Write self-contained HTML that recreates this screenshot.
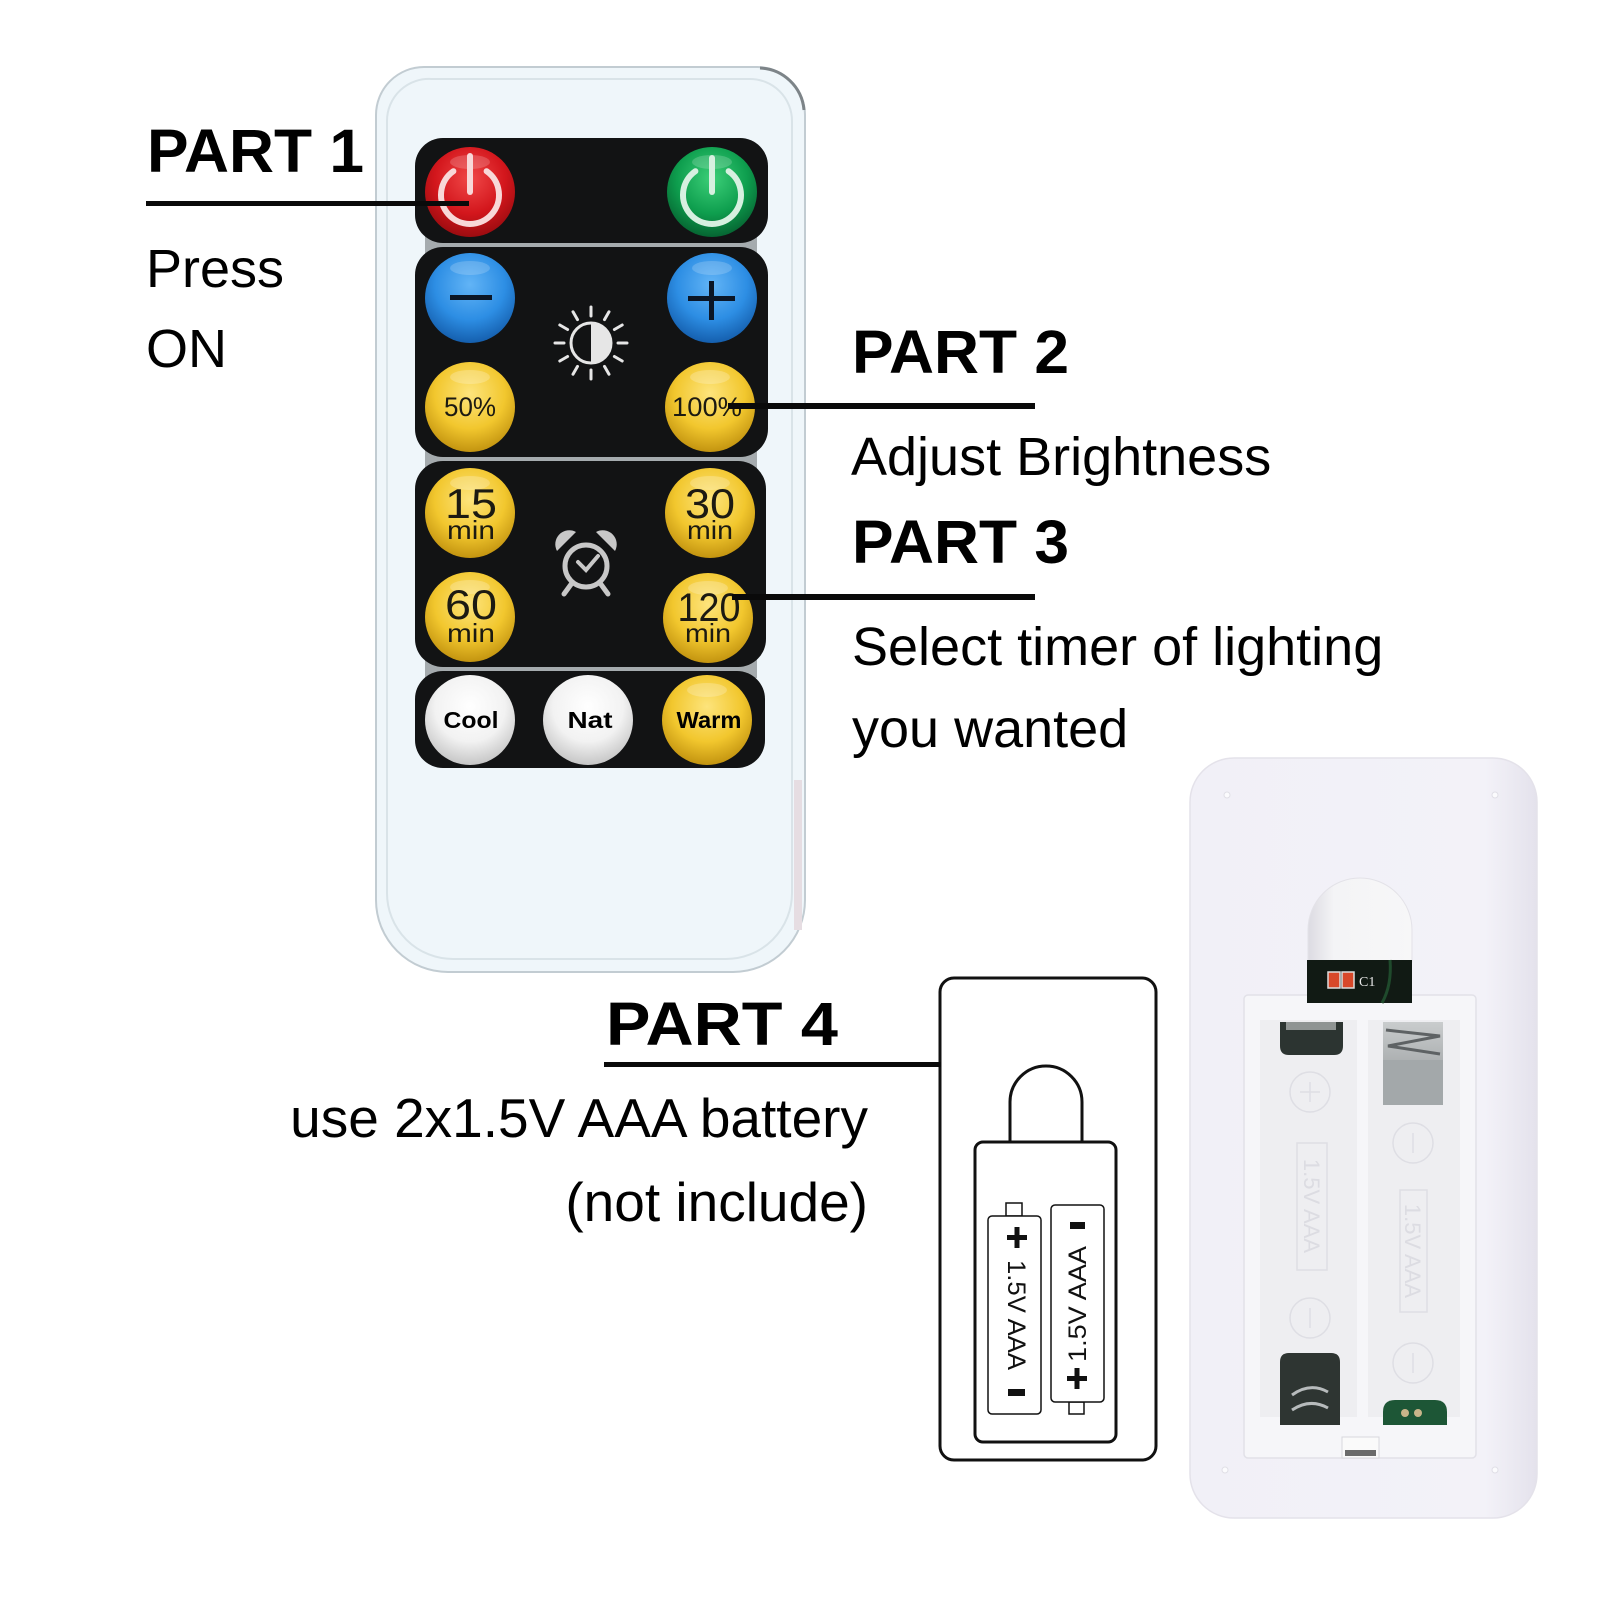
<!DOCTYPE html>
<html>
<head>
<meta charset="utf-8">
<style>
  html,body{margin:0;padding:0;background:#fff;}
  svg{display:block;}
  .lbl{font-family:"Liberation Sans",Arial,sans-serif;fill:#000;}
  .btn{font-family:"Liberation Sans Narrow","Liberation Sans",Arial,sans-serif;fill:#1c1a12;}
</style>
</head>
<body>
<svg width="1600" height="1600" viewBox="0 0 1600 1600" xmlns="http://www.w3.org/2000/svg">
  <defs>
    <radialGradient id="gRed" cx="50%" cy="35%" r="65%">
      <stop offset="0" stop-color="#f04848"/>
      <stop offset="0.6" stop-color="#d3161c"/>
      <stop offset="1" stop-color="#9c0c10"/>
    </radialGradient>
    <radialGradient id="gGreen" cx="50%" cy="35%" r="65%">
      <stop offset="0" stop-color="#3ccf78"/>
      <stop offset="0.6" stop-color="#0e9e4e"/>
      <stop offset="1" stop-color="#066532"/>
    </radialGradient>
    <radialGradient id="gBlue" cx="50%" cy="35%" r="65%">
      <stop offset="0" stop-color="#62b4f6"/>
      <stop offset="0.6" stop-color="#2d8ee4"/>
      <stop offset="1" stop-color="#155fae"/>
    </radialGradient>
    <radialGradient id="gYel" cx="50%" cy="35%" r="65%">
      <stop offset="0" stop-color="#fde47c"/>
      <stop offset="0.6" stop-color="#f2c72e"/>
      <stop offset="1" stop-color="#c39410"/>
    </radialGradient>
    <radialGradient id="gWht" cx="50%" cy="35%" r="65%">
      <stop offset="0" stop-color="#ffffff"/>
      <stop offset="0.6" stop-color="#f2f2f2"/>
      <stop offset="1" stop-color="#c6c6c6"/>
    </radialGradient>
    <linearGradient id="gBack" x1="0" y1="0" x2="1" y2="0">
      <stop offset="0" stop-color="#f1f0f7"/>
      <stop offset="0.85" stop-color="#f3f2f8"/>
      <stop offset="1" stop-color="#e4e2ec"/>
    </linearGradient>
    <linearGradient id="gArch" x1="0" y1="0" x2="1" y2="0">
      <stop offset="0" stop-color="#dcdbe2"/>
      <stop offset="0.25" stop-color="#f4f4f6"/>
      <stop offset="1" stop-color="#f7f7f8"/>
    </linearGradient>
    <linearGradient id="gMetal" x1="0" y1="0" x2="0" y2="1">
      <stop offset="0" stop-color="#c9cccd"/>
      <stop offset="1" stop-color="#8e9294"/>
    </linearGradient>
  </defs>

  <!-- ================= FRONT REMOTE ================= -->
  <path d="M424,67 H757 A48,48 0 0 1 805,115 V900 A72,72 0 0 1 733,972 H448 A72,72 0 0 1 376,900 V115 A48,48 0 0 1 424,67 Z"
        fill="#eff6fa" stroke="#c2ccd2" stroke-width="2"/>
  <path d="M432,79 H750 A42,42 0 0 1 792,121 V893 A66,66 0 0 1 726,959 H453 A66,66 0 0 1 387,893 V121 A42,42 0 0 1 432,79 Z"
        fill="none" stroke="#d9e3e8" stroke-width="2"/>
  <path d="M760,68 A46,46 0 0 1 804,110" fill="none" stroke="#7d8488" stroke-width="3"/>
  <rect x="794" y="780" width="8" height="150" fill="#e6dde2"/>

  <!-- gaps behind panels -->
  <rect x="425" y="236" width="332" height="442" fill="#a5abae"/>

  <!-- panels -->
  <rect x="415" y="138" width="353" height="105" rx="28" fill="#121314"/>
  <rect x="415" y="247" width="353" height="210" rx="28" fill="#121314"/>
  <rect x="415" y="461" width="351" height="206" rx="28" fill="#121314"/>
  <rect x="415" y="671" width="350" height="97" rx="28" fill="#121314"/>

  <!-- power buttons -->
  <circle cx="470" cy="192" r="45" fill="url(#gRed)"/>
  <ellipse cx="470" cy="162" rx="20" ry="7" fill="#fff" opacity="0.18"/>
  <path d="M486.6,171.2 A29,29 0 1 1 453.4,171.2" fill="none" stroke="#f8d8d8" stroke-width="6" stroke-linecap="round"/>
  <line x1="470" y1="156" x2="470" y2="192" stroke="#f8d8d8" stroke-width="6" stroke-linecap="round"/>

  <circle cx="712" cy="192" r="45" fill="url(#gGreen)"/>
  <ellipse cx="712" cy="162" rx="20" ry="7" fill="#fff" opacity="0.18"/>
  <path d="M728.6,171.2 A29,29 0 1 1 695.4,171.2" fill="none" stroke="#d6f0e0" stroke-width="6" stroke-linecap="round"/>
  <line x1="712" y1="158" x2="712" y2="192" stroke="#d6f0e0" stroke-width="6" stroke-linecap="round"/>

  <!-- brightness -->
  <circle cx="470" cy="298" r="45" fill="url(#gBlue)"/>
  <ellipse cx="470" cy="268" rx="20" ry="7" fill="#fff" opacity="0.18"/>
  <rect x="450" y="295" width="42" height="5" fill="#0b1626"/>

  <circle cx="712" cy="298" r="45" fill="url(#gBlue)"/>
  <ellipse cx="712" cy="268" rx="20" ry="7" fill="#fff" opacity="0.18"/>
  <rect x="688" y="296" width="47" height="5" fill="#0b1626"/>
  <rect x="709" y="281" width="5" height="39" fill="#0b1626"/>

  <!-- sun icon -->
  <g stroke="#e6e6e6" stroke-width="3" stroke-linecap="round">
    <circle cx="591" cy="343" r="20" fill="none"/>
    <line x1="618" y1="343" x2="627" y2="343"/>
    <line x1="614.4" y1="356.5" x2="622.2" y2="361"/>
    <line x1="604.5" y1="366.4" x2="609" y2="374.2"/>
    <line x1="591" y1="370" x2="591" y2="379"/>
    <line x1="577.5" y1="366.4" x2="573" y2="374.2"/>
    <line x1="567.6" y1="356.5" x2="559.8" y2="361"/>
    <line x1="564" y1="343" x2="555" y2="343"/>
    <line x1="567.6" y1="329.5" x2="559.8" y2="325"/>
    <line x1="577.5" y1="319.6" x2="573" y2="311.8"/>
    <line x1="591" y1="316" x2="591" y2="307"/>
    <line x1="604.5" y1="319.6" x2="609" y2="311.8"/>
    <line x1="614.4" y1="329.5" x2="622.2" y2="325"/>
  </g>
  <path d="M591,323 A20,20 0 0 1 591,363 Z" fill="#e6e6e6"/>

  <circle cx="470" cy="407" r="45" fill="url(#gYel)"/>
  <ellipse cx="470" cy="377" rx="20" ry="7" fill="#fff" opacity="0.22"/>
  <text class="btn" x="470" y="416" font-size="27" text-anchor="middle" textLength="52" lengthAdjust="spacingAndGlyphs">50%</text>

  <circle cx="710" cy="407" r="45" fill="url(#gYel)"/>
  <ellipse cx="710" cy="377" rx="20" ry="7" fill="#fff" opacity="0.22"/>
  <text class="btn" x="707" y="416" font-size="27" text-anchor="middle" textLength="70" lengthAdjust="spacingAndGlyphs">100%</text>

  <!-- timer -->
  <circle cx="470" cy="513" r="45" fill="url(#gYel)"/>
  <ellipse cx="470" cy="483" rx="20" ry="7" fill="#fff" opacity="0.22"/>
  <text class="btn" x="471" y="518" font-size="42" text-anchor="middle" textLength="52" lengthAdjust="spacingAndGlyphs">15</text>
  <text class="btn" x="471" y="539" font-size="26" text-anchor="middle" textLength="48" lengthAdjust="spacingAndGlyphs">min</text>

  <circle cx="710" cy="513" r="45" fill="url(#gYel)"/>
  <ellipse cx="710" cy="483" rx="20" ry="7" fill="#fff" opacity="0.22"/>
  <text class="btn" x="710" y="518" font-size="42" text-anchor="middle" textLength="50" lengthAdjust="spacingAndGlyphs">30</text>
  <text class="btn" x="710" y="539" font-size="26" text-anchor="middle" textLength="46" lengthAdjust="spacingAndGlyphs">min</text>

  <circle cx="470" cy="617" r="45" fill="url(#gYel)"/>
  <ellipse cx="470" cy="587" rx="20" ry="7" fill="#fff" opacity="0.22"/>
  <text class="btn" x="471" y="619" font-size="42" text-anchor="middle" textLength="52" lengthAdjust="spacingAndGlyphs">60</text>
  <text class="btn" x="471" y="642" font-size="26" text-anchor="middle" textLength="48" lengthAdjust="spacingAndGlyphs">min</text>

  <circle cx="708" cy="618" r="45" fill="url(#gYel)"/>
  <ellipse cx="708" cy="588" rx="20" ry="7" fill="#fff" opacity="0.22"/>
  <text class="btn" x="709" y="621" font-size="40" text-anchor="middle" textLength="63" lengthAdjust="spacingAndGlyphs">120</text>
  <text class="btn" x="708" y="642" font-size="26" text-anchor="middle" textLength="46" lengthAdjust="spacingAndGlyphs">min</text>

  <!-- alarm icon -->
  <g stroke="#c8c8c8" fill="none" stroke-linecap="round">
    <circle cx="586" cy="566" r="21" stroke-width="5"/>
    <line x1="572" y1="583" x2="564" y2="594" stroke-width="5"/>
    <line x1="600" y1="583" x2="608" y2="594" stroke-width="5"/>
    <polyline points="578,562 586,570 598,556" stroke-width="4"/>
  </g>
  <path d="M557,551 A14,14 0 0 1 576,532 Z" fill="#c8c8c8"/>
  <path d="M615,551 A14,14 0 0 0 596,532 Z" fill="#c8c8c8"/>

  <!-- color buttons -->
  <circle cx="470" cy="720" r="45" fill="url(#gWht)"/>
  <text class="lbl" x="471" y="728" font-size="23" font-weight="bold" text-anchor="middle" fill="#222" textLength="55" lengthAdjust="spacingAndGlyphs">Cool</text>
  <circle cx="588" cy="720" r="45" fill="url(#gWht)"/>
  <text class="lbl" x="590" y="728" font-size="23" font-weight="bold" text-anchor="middle" fill="#222" textLength="45" lengthAdjust="spacingAndGlyphs">Nat</text>
  <circle cx="707" cy="720" r="45" fill="url(#gYel)"/>
  <ellipse cx="707" cy="690" rx="20" ry="7" fill="#fff" opacity="0.22"/>
  <text class="lbl" x="709" y="728" font-size="23" font-weight="bold" text-anchor="middle" fill="#222" textLength="65" lengthAdjust="spacingAndGlyphs">Warm</text>

  <!-- ================= BACK REMOTE ================= -->
  <rect x="1190" y="758" width="347" height="760" rx="44" fill="url(#gBack)" stroke="#e4e2ea" stroke-width="1.5"/>
  <circle cx="1227" cy="795" r="3" fill="#fbfbfd" stroke="#e0dfe6"/>
  <circle cx="1495" cy="795" r="3" fill="#fbfbfd" stroke="#e0dfe6"/>
  <circle cx="1225" cy="1470" r="3" fill="#fbfbfd" stroke="#e0dfe6"/>
  <circle cx="1495" cy="1470" r="3" fill="#fbfbfd" stroke="#e0dfe6"/>

  <!-- arch -->
  <path d="M1308,962 V930 A52,52 0 0 1 1412,930 V962 Z" fill="url(#gArch)" stroke="#e3e2e8" stroke-width="1"/>

  <!-- recess -->
  <rect x="1244" y="995" width="232" height="463" rx="4" fill="#f6f6f9" stroke="#e2e1e8" stroke-width="1.5"/>
  <rect x="1260" y="1020" width="97" height="397" fill="#eeeef1"/>
  <rect x="1368" y="1020" width="92" height="397" fill="#eeeef1"/>

  <!-- PCB -->
  <rect x="1307" y="960" width="105" height="43" fill="#111a14"/>
  <path d="M1390,960 Q1392,985 1382,1003" fill="none" stroke="#1f4a2c" stroke-width="3"/>
  <rect x="1328" y="972" width="12" height="16" fill="#d8482a" stroke="#ddd" stroke-width="1.5"/>
  <rect x="1342" y="972" width="12" height="16" fill="#d8482a" stroke="#ddd" stroke-width="1.5"/>
  <text x="1359" y="986" font-family="Liberation Serif,serif" font-size="14" fill="#e8e8e8">C1</text>

  <!-- embossed markings -->
  <g fill="none" stroke="#dedee4" stroke-width="1.5">
    <circle cx="1310" cy="1092" r="20"/>
    <line x1="1300" y1="1092" x2="1320" y2="1092"/>
    <line x1="1310" y1="1082" x2="1310" y2="1102"/>
    <circle cx="1413" cy="1143" r="20"/>
    <line x1="1413" y1="1133" x2="1413" y2="1153"/>
    <circle cx="1310" cy="1318" r="20"/>
    <line x1="1310" y1="1308" x2="1310" y2="1328"/>
    <circle cx="1413" cy="1363" r="20"/>
    <line x1="1413" y1="1353" x2="1413" y2="1373"/>
    <rect x="1297" y="1143" width="30" height="127"/>
    <rect x="1400" y="1190" width="27" height="122"/>
  </g>
  <text transform="translate(1312,1206) rotate(90)" font-family="Liberation Sans,sans-serif" font-size="22" fill="#dcdce2" text-anchor="middle" dy="8">1.5V AAA</text>
  <text transform="translate(1413,1251) rotate(90)" font-family="Liberation Sans,sans-serif" font-size="22" fill="#dcdce2" text-anchor="middle" dy="8">1.5V AAA</text>

  <!-- contacts -->
  <path d="M1280,1022 H1343 V1046 Q1343,1055 1334,1055 H1289 Q1280,1055 1280,1046 Z" fill="#2c3431"/>
  <rect x="1286" y="1022" width="50" height="8" fill="#8f9493"/>
  <rect x="1383" y="1022" width="60" height="83" fill="url(#gMetal)"/>
  <polyline points="1386,1030 1440,1036 1388,1046 1440,1054" fill="none" stroke="#5e6264" stroke-width="3"/>
  <rect x="1383" y="1060" width="60" height="45" fill="#a3a8aa"/>
  <path d="M1280,1362 Q1280,1353 1289,1353 H1331 Q1340,1353 1340,1362 V1425 H1280 Z" fill="#2e3532"/>
  <path d="M1292,1395 Q1310,1382 1328,1392 M1292,1410 Q1310,1398 1328,1408" fill="none" stroke="#b7bbbc" stroke-width="3"/>
  <path d="M1383,1425 V1412 Q1383,1400 1395,1400 H1435 Q1447,1400 1447,1412 V1425 Z" fill="#1d5636"/>
  <circle cx="1405" cy="1413" r="4" fill="#c9b58a"/>
  <circle cx="1418" cy="1413" r="4" fill="#c9b58a"/>
  <rect x="1342" y="1437" width="37" height="21" fill="#fafafa" stroke="#d8d8dd"/>
  <rect x="1345" y="1450" width="31" height="6" fill="#6b6b6b"/>

  <!-- ================= BATTERY DIAGRAM ================= -->
  <g fill="none" stroke="#111" stroke-width="3">
    <rect x="940" y="978" width="216" height="482" rx="14" fill="#fff"/>
    <rect x="975" y="1142" width="141" height="300" rx="8"/>
    <path d="M1010,1142 V1102 A36,36 0 0 1 1082,1102 V1142"/>
  </g>
  <g fill="#fff" stroke="#111" stroke-width="1.5">
    <rect x="1006" y="1203" width="16" height="13"/>
    <rect x="988" y="1216" width="53" height="198" rx="4"/>
    <rect x="1069" y="1402" width="15" height="12"/>
    <rect x="1051" y="1205" width="53" height="197" rx="4"/>
  </g>
  <!-- left battery marks -->
  <rect x="1007" y="1235" width="20" height="5" fill="#111"/>
  <rect x="1014.5" y="1227" width="5" height="21" fill="#111"/>
  <text transform="translate(1017,1315) rotate(90)" font-family="Liberation Sans,sans-serif" font-size="25" fill="#111" text-anchor="middle" dy="9" textLength="110" lengthAdjust="spacingAndGlyphs">1.5V AAA</text>
  <rect x="1008" y="1389" width="17" height="7" fill="#111"/>
  <!-- right battery marks -->
  <rect x="1070" y="1222" width="15" height="7" fill="#111"/>
  <text transform="translate(1077,1304) rotate(-90)" font-family="Liberation Sans,sans-serif" font-size="25" fill="#111" text-anchor="middle" dy="9" textLength="116" lengthAdjust="spacingAndGlyphs">1.5V AAA</text>
  <rect x="1067" y="1376" width="20" height="5" fill="#111"/>
  <rect x="1074.5" y="1368" width="5" height="21" fill="#111"/>

  <!-- ================= CONNECTOR LINES ================= -->
  <rect x="146" y="201" width="323" height="5" fill="#0a0a0a"/>
  <rect x="728" y="403" width="307" height="6" fill="#0a0a0a"/>
  <rect x="732" y="594" width="303" height="6" fill="#0a0a0a"/>
  <rect x="604" y="1062" width="337" height="5" fill="#0a0a0a"/>

  <!-- ================= LABELS ================= -->
  <text class="lbl" x="147" y="172" font-size="61" font-weight="bold" textLength="217" lengthAdjust="spacingAndGlyphs">PART 1</text>
  <text class="lbl" x="146" y="287" font-size="54">Press</text>
  <text class="lbl" x="146" y="367" font-size="54">ON</text>

  <text class="lbl" x="852" y="373" font-size="61" font-weight="bold" textLength="217" lengthAdjust="spacingAndGlyphs">PART 2</text>
  <text class="lbl" x="851" y="475" font-size="54">Adjust Brightness</text>
  <text class="lbl" x="852" y="563" font-size="61" font-weight="bold" textLength="217" lengthAdjust="spacingAndGlyphs">PART 3</text>
  <text class="lbl" x="852" y="665" font-size="54">Select timer of lighting</text>
  <text class="lbl" x="852" y="747" font-size="54">you wanted</text>

  <text class="lbl" x="606" y="1045" font-size="61" font-weight="bold" textLength="232" lengthAdjust="spacingAndGlyphs">PART 4</text>
  <text class="lbl" x="868" y="1137" font-size="55" text-anchor="end">use 2x1.5V AAA battery</text>
  <text class="lbl" x="868" y="1221" font-size="55" text-anchor="end">(not include)</text>
</svg>
</body>
</html>
